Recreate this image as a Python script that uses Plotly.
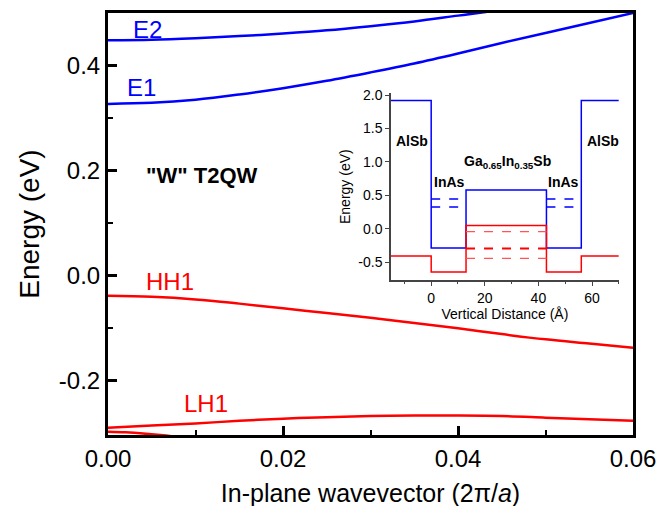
import plotly.graph_objects as go

# ---------------- main panel data ----------------
k_E1 = [0.0, 0.005, 0.01, 0.015, 0.02, 0.025, 0.03, 0.035, 0.04, 0.045, 0.05, 0.055, 0.06]
E1 = [0.327, 0.329, 0.335, 0.345, 0.357, 0.371, 0.387, 0.404, 0.423, 0.443, 0.462, 0.481, 0.500]

k_E2 = [0.0, 0.005, 0.01, 0.015, 0.02, 0.025, 0.03, 0.035, 0.04, 0.045, 0.05]
E2 = [0.448, 0.449, 0.452, 0.456, 0.461, 0.467, 0.475, 0.484, 0.495, 0.506, 0.518]

k_HH1 = [0.0, 0.005, 0.01, 0.015, 0.02, 0.025, 0.03, 0.035, 0.04, 0.045, 0.05, 0.055, 0.06]
HH1 = [-0.038, -0.040, -0.045, -0.053, -0.062, -0.071, -0.080, -0.090, -0.100, -0.111, -0.121, -0.129, -0.137]

k_LH1 = [0.0, 0.005, 0.01, 0.015, 0.02, 0.025, 0.03, 0.035, 0.04, 0.045, 0.05, 0.055, 0.06]
LH1 = [-0.289, -0.285, -0.281, -0.276, -0.272, -0.269, -0.267, -0.266, -0.266, -0.267, -0.270, -0.273, -0.276]

k_LH2 = [0.0, 0.002, 0.004, 0.006, 0.008, 0.01]
LH2 = [-0.297, -0.298, -0.300, -0.303, -0.307, -0.312]

x_ticks = [0.0, 0.02, 0.04, 0.06]
x_ticktext = ["0.00", "0.02", "0.04", "0.06"]
y_ticks = [-0.2, 0.0, 0.2, 0.4]
y_ticktext = ["-0.2", "0.0", "0.2", "0.4"]

# ---------------- inset data (band edges) ----------------
z_steps = [-15, 0, 13, 43, 56, 70]
cb_edge = [1.92, -0.29, 0.58, -0.29, 1.92, 1.92]
vb_edge = [-0.41, -0.65, 0.05, -0.65, -0.41, -0.41]

z_inas = [0, 13, None, 43, 56]
e_levels_inas = [0.445, 0.325]
z_gainsb = [13, 43]
h_levels_gainsb = [-0.045, -0.295, -0.445]

inset_x_ticks = [0, 20, 40, 60]
inset_y_ticks = [-0.5, 0.0, 0.5, 1.0, 1.5, 2.0]
inset_y_ticktext = ["-0.5", "0.0", "0.5", "1.0", "1.5", "2.0"]

BLUE = "#0000FF"
RED = "#FF0000"
FONT = "Liberation Sans, Arial, sans-serif"

fig = go.Figure()

# main curves
for kx, ey, c in [(k_E2, E2, BLUE), (k_E1, E1, BLUE), (k_HH1, HH1, RED),
                  (k_LH1, LH1, RED), (k_LH2, LH2, RED)]:
    fig.add_trace(go.Scatter(x=kx, y=ey, mode="lines", line=dict(color=c, width=2.5, shape="spline"),
                             xaxis="x", yaxis="y", showlegend=False))

# inset band edges
fig.add_trace(go.Scatter(x=z_steps, y=cb_edge, mode="lines", line=dict(color=BLUE, width=1.5, shape="hv"),
                         xaxis="x2", yaxis="y2", showlegend=False))
fig.add_trace(go.Scatter(x=z_steps, y=vb_edge, mode="lines", line=dict(color=RED, width=1.5, shape="hv"),
                         xaxis="x2", yaxis="y2", showlegend=False))
for e in e_levels_inas:
    fig.add_trace(go.Scatter(x=z_inas, y=[e, e, None, e, e], mode="lines",
                             line=dict(color=BLUE, width=1.3, dash="dash"),
                             xaxis="x2", yaxis="y2", showlegend=False, connectgaps=False))
for i, h in enumerate(h_levels_gainsb):
    fig.add_trace(go.Scatter(x=z_gainsb, y=[h, h], mode="lines",
                             line=dict(color=RED if i == 1 else "#FF5555", width=2 if i == 1 else 1.3, dash="dash"),
                             xaxis="x2", yaxis="y2", showlegend=False))

annotations = [
    dict(x=0.0045, y=0.469, xref="x", yref="y", text="E2", font=dict(size=24, color=BLUE, family=FONT), showarrow=False),
    dict(x=0.0038, y=0.358, xref="x", yref="y", text="E1", font=dict(size=24, color=BLUE, family=FONT), showarrow=False),
    dict(x=0.0071, y=-0.010, xref="x", yref="y", text="HH1", font=dict(size=24, color=RED, family=FONT), showarrow=False),
    dict(x=0.0112, y=-0.243, xref="x", yref="y", text="LH1", font=dict(size=24, color=RED, family=FONT), showarrow=False),
    dict(x=0.0107, y=0.191, xref="x", yref="y", text="<b>\"W\" T2QW</b>", font=dict(size=22, color="black", family=FONT), showarrow=False),
    dict(x=-7, y=1.31, xref="x2", yref="y2", text="<b>AlSb</b>", font=dict(size=14, color="black", family=FONT), showarrow=False),
    dict(x=64, y=1.31, xref="x2", yref="y2", text="<b>AlSb</b>", font=dict(size=14, color="black", family=FONT), showarrow=False),
    dict(x=7, y=0.70, xref="x2", yref="y2", text="<b>InAs</b>", font=dict(size=14, color="black", family=FONT), showarrow=False),
    dict(x=49.3, y=0.70, xref="x2", yref="y2", text="<b>InAs</b>", font=dict(size=14, color="black", family=FONT), showarrow=False),
    dict(x=28.5, y=1.0, xref="x2", yref="y2", text="<b>Ga<sub>0.65</sub>In<sub>0.35</sub>Sb</b>",
         font=dict(size=14, color="black", family=FONT), showarrow=False),
]

fig.update_layout(
    width=669, height=506,
    margin=dict(l=100, r=44, t=5, b=79, autoexpand=False),
    paper_bgcolor="white", plot_bgcolor="white",
    font=dict(family=FONT, color="black"),
    showlegend=False,
    annotations=annotations,
    xaxis=dict(domain=[0, 1], range=[0, 0.06], tickvals=x_ticks, ticktext=x_ticktext,
               ticks="inside", ticklen=9, tickwidth=2.5, tickcolor="black",
               minor=dict(tickvals=[0.01, 0.03, 0.05], ticks="inside", ticklen=5, tickwidth=2, tickcolor="black"),
               showline=True, mirror=True, linewidth=3, linecolor="black", automargin=False,
               showgrid=False, zeroline=False, tickfont=dict(size=24),
               title=dict(text="In-plane wavevector (2π/<i>a</i>)", font=dict(size=25), standoff=14)),
    yaxis=dict(domain=[0, 1], range=[-0.303, 0.5], tickvals=y_ticks, ticktext=y_ticktext,
               ticks="inside", ticklen=9, tickwidth=2.5, tickcolor="black",
               minor=dict(tickvals=[-0.1, 0.1, 0.3], ticks="inside", ticklen=5, tickwidth=2, tickcolor="black"),
               showline=True, mirror=True, linewidth=3, linecolor="black", automargin=False,
               showgrid=False, zeroline=False, tickfont=dict(size=24),
               title=dict(text="Energy (eV)", font=dict(size=28), standoff=12)),
    xaxis2=dict(domain=[0.539, 0.973], anchor="y2", range=[-15, 70], tickvals=inset_x_ticks,
                ticks="outside", ticklen=4, tickwidth=1, tickcolor="#444", automargin=False,
                minor=dict(tickvals=[-10, 10, 30, 50, 70], ticks="outside", ticklen=2.5, tickwidth=1, tickcolor="#444"),
                showline=True, linewidth=1.5, linecolor="#444", showgrid=False, zeroline=False,
                tickfont=dict(size=14), title=dict(text="Vertical Distance (Å)", font=dict(size=14), standoff=4)),
    yaxis2=dict(domain=[0.367, 0.81], anchor="x2", range=[-0.77, 2.03], tickvals=inset_y_ticks,
                ticktext=inset_y_ticktext, automargin=False,
                ticks="outside", ticklen=4, tickwidth=1, tickcolor="#444",
                showline=True, linewidth=1.5, linecolor="#444", showgrid=False, zeroline=False,
                tickfont=dict(size=14), title=dict(text="Energy (eV)", font=dict(size=14), standoff=4)),
)

fig.write_html("out.html")
